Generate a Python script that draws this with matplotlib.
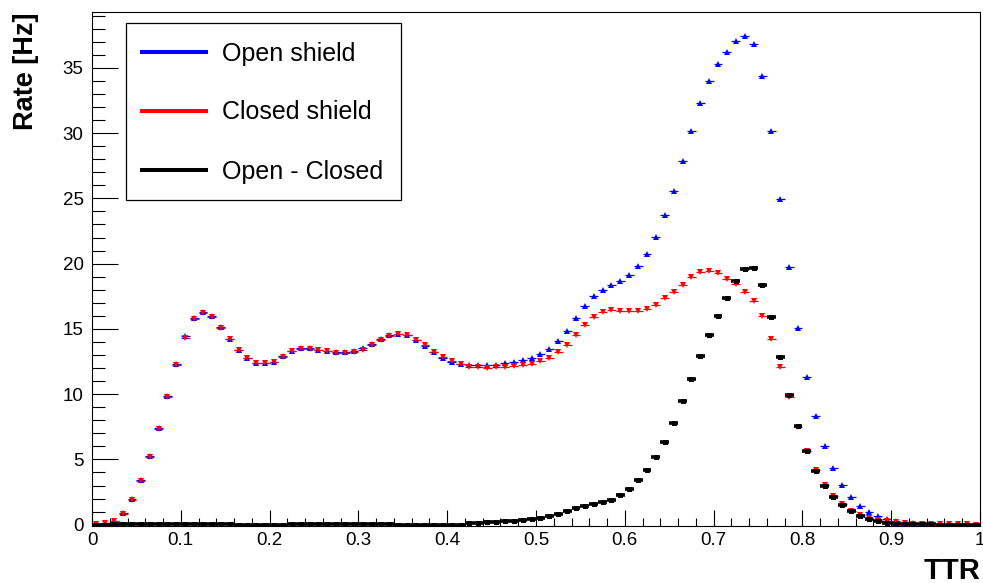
import numpy as np
import matplotlib
matplotlib.use("Agg")
import matplotlib.pyplot as plt
from matplotlib.patches import Rectangle
from matplotlib.ticker import MultipleLocator, FuncFormatter

plt.rcParams['font.family'] = ['Liberation Sans', 'DejaVu Sans']

# TTR histogram, 100 bins of width 0.01 between 0 and 1
bin_width = 0.01
n_bins = 100

open_shield = [
    0.05, 0.15, 0.3, 0.9, 1.95, 3.4, 5.25, 7.4, 9.85, 12.3,
    14.45, 15.85, 16.3, 16.0, 15.15, 14.25, 13.4, 12.8, 12.4, 12.4,
    12.5, 12.9, 13.3, 13.5, 13.5, 13.4, 13.3, 13.2, 13.2, 13.3,
    13.5, 13.85, 14.25, 14.5, 14.6, 14.5, 14.15, 13.7, 13.2, 12.8,
    12.5, 12.3, 12.2, 12.2, 12.2, 12.25, 12.35, 12.45, 12.6, 12.75,
    13.05, 13.45, 14.05, 14.85, 15.8, 16.75, 17.5, 18.0, 18.4, 18.65,
    19.1, 19.8, 20.75, 22.05, 23.7, 25.6, 27.85, 30.15, 32.3, 34.0,
    35.3, 36.2, 37.05, 37.45, 36.8, 34.35, 30.15, 24.95, 19.75, 15.05,
    11.3, 8.3, 6.0, 4.35, 3.05, 2.1, 1.45, 0.95, 0.65, 0.4,
    0.25, 0.15, 0.1, 0.07, 0.05, 0.04, 0.03, 0.02, 0.02, 0.01,
]

closed_shield = [
    0.05, 0.13, 0.25, 0.85, 1.92, 3.35, 5.18, 7.3, 9.77, 12.2,
    14.33, 15.75, 16.22, 15.94, 15.1, 14.21, 13.37, 12.78, 12.4, 12.42,
    12.5, 12.88, 13.27, 13.45, 13.46, 13.37, 13.27, 13.15, 13.14, 13.22,
    13.4, 13.75, 14.17, 14.45, 14.58, 14.5, 14.17, 13.73, 13.24, 12.85,
    12.55, 12.3, 12.1, 12.1, 12.03, 12.05, 12.1, 12.15, 12.27, 12.32,
    12.54, 12.76, 13.21, 13.8, 14.52, 15.29, 15.92, 16.26, 16.48, 16.35,
    16.34, 16.4, 16.54, 16.86, 17.36, 17.81, 18.4, 18.96, 19.35, 19.44,
    19.28, 18.83, 18.41, 17.86, 17.11, 15.96, 14.26, 12.1, 9.79, 7.52,
    5.68, 4.16, 3.06, 2.23, 1.57, 1.08, 0.76, 0.51, 0.39, 0.27,
    0.17, 0.1, 0.07, 0.05, 0.03, 0.03, 0.03, 0.02, 0.02, 0.01,
]

open_minus_closed = [
    0.0, 0.01, 0.02, 0.03, 0.02, 0.03, 0.04, 0.05, 0.04, 0.05,
    0.06, 0.05, 0.04, 0.03, 0.02, 0.02, 0.01, 0.0, 0.0, -0.02,
    0.0, 0.01, 0.02, 0.03, 0.02, 0.02, 0.02, 0.03, 0.03, 0.04,
    0.05, 0.05, 0.04, 0.03, 0.01, 0.0, -0.02, -0.03, -0.04, -0.05,
    -0.05, 0.0, 0.1, 0.1, 0.17, 0.2, 0.25, 0.3, 0.33, 0.43,
    0.51, 0.69, 0.84, 1.05, 1.28, 1.46, 1.58, 1.74, 1.92, 2.3,
    2.76, 3.4, 4.21, 5.19, 6.34, 7.79, 9.45, 11.19, 12.95, 14.56,
    16.02, 17.37, 18.64, 19.59, 19.69, 18.39, 15.89, 12.85, 9.96, 7.53,
    5.62, 4.14, 2.94, 2.12, 1.48, 1.02, 0.69, 0.44, 0.26, 0.13,
    0.08, 0.05, 0.03, 0.02, 0.02, 0.01, 0.0, 0.0, 0.0, 0.0,
]

ttr = (np.arange(n_bins) + 0.5) * bin_width

fig = plt.figure(figsize=(9.83, 5.83), dpi=100)
ax = fig.add_axes([92 / 983, 1 - 526 / 583, 888 / 983, 514.3 / 583])

# (values, colour, marker, marker size, error-bar line width)
series = [
    (open_shield, 'blue', '^', 4.8, 0.9),
    (closed_shield, 'red', 'v', 4.8, 0.9),
    (open_minus_closed, 'black', 's', 3.6, 2.6),
]
for vals, col, mk, ms, elw in series:
    ax.errorbar(ttr, vals, xerr=bin_width / 2, fmt=mk, color=col, ms=ms,
                mew=0, elinewidth=elw, capsize=1.8, capthick=1.0)

ax.set_xlim(0, 1)
ax.set_ylim(-0.1, 39.3)

ax.xaxis.set_major_locator(MultipleLocator(0.1))
ax.xaxis.set_minor_locator(MultipleLocator(0.02))
ax.yaxis.set_major_locator(MultipleLocator(5))
ax.yaxis.set_minor_locator(MultipleLocator(1))
ax.xaxis.set_major_formatter(FuncFormatter(lambda v, p: '%g' % round(v, 2)))

ax.tick_params(which='both', direction='in', top=False, right=False,
               width=0.8, labelsize=13.5)
ax.tick_params(axis='y', which='major', length=18.7, pad=6)
ax.tick_params(axis='y', which='minor', length=9.4)
ax.tick_params(axis='x', which='major', length=11.5, pad=4)
ax.tick_params(axis='x', which='minor', length=5.8)
for s in ax.spines.values():
    s.set_linewidth(0.8)

# axis titles, right-adjusted like ROOT
fig.text(980 / 983, 1 - 579 / 583, 'TTR', ha='right', va='baseline',
         fontsize=21, fontweight='bold')
fig.text(33.3 / 983, 1 - 12 / 583, 'Rate [Hz]', rotation=90,
         rotation_mode='anchor', ha='right', va='baseline',
         fontsize=19.5, fontweight='bold')

# legend box
def to_ax(px, py):
    return (px - 92) / 888, (526 - py) / 514.3

x0, y0 = to_ax(126, 200)
x1, y1 = to_ax(401, 23.3)
ax.add_patch(Rectangle((x0, y0), x1 - x0, y1 - y0, transform=ax.transAxes,
                       facecolor='white', edgecolor='black', lw=0.9,
                       zorder=5))
entries = [('Open shield', 'blue', 52.3),
           ('Closed shield', 'red', 110.7),
           ('Open - Closed', 'black', 170)]
for label, col, py in entries:
    lx0, ly = to_ax(140, py)
    lx1, _ = to_ax(208, py)
    ax.plot([lx0, lx1], [ly, ly], color=col, lw=2.9, solid_capstyle='butt',
            transform=ax.transAxes, zorder=6)
    tx, ty = to_ax(221.7, py + 8.5)
    ax.text(tx, ty, label, transform=ax.transAxes, fontsize=18,
            va='baseline', ha='left', zorder=6)

fig.savefig('out.png', dpi=100)
